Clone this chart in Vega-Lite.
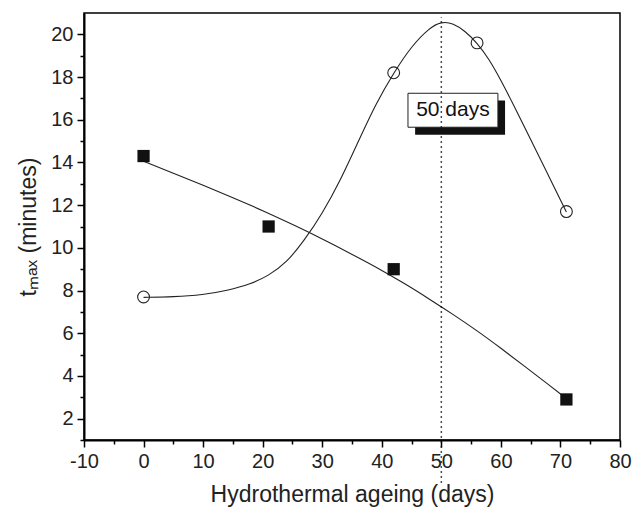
{
  "$schema": "https://vega.github.io/schema/vega-lite/v6.json",
  "width": 536,
  "height": 427,
  "autosize": {"type": "none"},
  "padding": {"left": 84, "top": 13, "right": 13, "bottom": 71},
  "background": "white",
  "config": {
    "view": {"stroke": "black", "strokeWidth": 1.5},
    "font": "Liberation Sans",
    "axis": {
      "grid": false,
      "domainColor": "black",
      "domainWidth": 2,
      "tickColor": "black",
      "tickWidth": 1.5,
      "labelColor": "#222",
      "titleColor": "#222",
      "labelFont": "Liberation Sans",
      "titleFont": "Liberation Sans",
      "labelFontSize": 20,
      "titleFontSize": 23,
      "titleFontWeight": "normal"
    }
  },
  "datasets": {
    "points": [
      {"series": "squares", "day": 0, "value": 14.3},
      {"series": "squares", "day": 21, "value": 11.0},
      {"series": "squares", "day": 42, "value": 9.0},
      {"series": "squares", "day": 71, "value": 2.9},
      {"series": "circles", "day": 0, "value": 7.7},
      {"series": "circles", "day": 42, "value": 18.2},
      {"series": "circles", "day": 56, "value": 19.6},
      {"series": "circles", "day": 71, "value": 11.7}
    ],
    "fit": [
      {"series": "squares", "day": 0, "value": 14.06},
      {"series": "squares", "day": 5, "value": 13.5},
      {"series": "squares", "day": 10, "value": 12.93},
      {"series": "squares", "day": 15, "value": 12.35},
      {"series": "squares", "day": 20, "value": 11.75},
      {"series": "squares", "day": 25, "value": 11.1},
      {"series": "squares", "day": 28, "value": 10.7},
      {"series": "squares", "day": 32, "value": 10.13},
      {"series": "squares", "day": 36, "value": 9.55},
      {"series": "squares", "day": 40, "value": 8.95},
      {"series": "squares", "day": 44, "value": 8.3},
      {"series": "squares", "day": 48, "value": 7.6},
      {"series": "squares", "day": 52, "value": 6.88},
      {"series": "squares", "day": 56, "value": 6.12},
      {"series": "squares", "day": 60, "value": 5.3},
      {"series": "squares", "day": 64, "value": 4.45},
      {"series": "squares", "day": 68, "value": 3.6},
      {"series": "squares", "day": 71, "value": 2.94},
      {"series": "circles", "day": 0, "value": 7.68},
      {"series": "circles", "day": 5, "value": 7.7},
      {"series": "circles", "day": 10, "value": 7.8},
      {"series": "circles", "day": 14, "value": 8.0},
      {"series": "circles", "day": 18, "value": 8.3},
      {"series": "circles", "day": 21, "value": 8.7},
      {"series": "circles", "day": 24, "value": 9.3},
      {"series": "circles", "day": 27, "value": 10.35},
      {"series": "circles", "day": 30, "value": 11.6},
      {"series": "circles", "day": 33, "value": 13.13},
      {"series": "circles", "day": 36, "value": 14.95},
      {"series": "circles", "day": 39, "value": 16.75},
      {"series": "circles", "day": 42, "value": 18.2},
      {"series": "circles", "day": 45, "value": 19.45},
      {"series": "circles", "day": 48, "value": 20.3},
      {"series": "circles", "day": 50, "value": 20.6},
      {"series": "circles", "day": 52, "value": 20.52},
      {"series": "circles", "day": 54, "value": 20.15},
      {"series": "circles", "day": 56, "value": 19.6},
      {"series": "circles", "day": 58, "value": 18.85},
      {"series": "circles", "day": 60, "value": 17.85},
      {"series": "circles", "day": 62, "value": 16.77},
      {"series": "circles", "day": 65, "value": 15.08},
      {"series": "circles", "day": 68, "value": 13.38},
      {"series": "circles", "day": 71, "value": 11.68}
    ],
    "marker": [{"day": 50, "y1": -1, "y2": 20.8}],
    "box": [{"x1": 44.4, "x2": 59.5, "y1": 17.24, "y2": 15.65, "sx1": 45.6, "sx2": 60.7, "sy1": 16.9, "sy2": 15.3, "tx": 51.95, "ty": 16.45, "label": "50 days"}]
  },
  "encoding": {
    "x": {
      "field": "day", "type": "quantitative",
      "scale": {"domain": [-10, 80], "nice": false, "zero": false},
      "axis": {
        "title": "Hydrothermal ageing (days)",
        "values": [-10, -5, 0, 5, 10, 15, 20, 25, 30, 35, 40, 45, 50, 55, 60, 65, 70, 75, 80],
        "labelExpr": "datum.value % 10 === 0 ? '' + datum.value : ''",
        "tickSize": {"condition": {"test": "datum.value % 10 === 0", "value": 7}, "value": 4},
        "labelPadding": 4,
        "titlePadding": 12,
        "labelFlush": false
      }
    },
    "y": {
      "field": "value", "type": "quantitative",
      "scale": {"domain": [1, 21], "nice": false, "zero": false},
      "axis": {
        "title": "tₘₐₓ (minutes)",
        "values": [1, 2, 3, 4, 5, 6, 7, 8, 9, 10, 11, 12, 13, 14, 15, 16, 17, 18, 19, 20],
        "labelExpr": "datum.value % 2 === 0 ? datum.label : ''",
        "tickSize": {"condition": {"test": "datum.value % 2 === 0", "value": 7}, "value": 4},
        "labelPadding": 4,
        "titlePadding": 10,
        "labelFlush": false
      }
    }
  },
  "layer": [
    {
      "data": {"name": "fit"},
      "transform": [{"filter": "datum.series === 'squares'"}],
      "mark": {"type": "line", "interpolate": "basis", "color": "#222", "strokeWidth": 1.1}
    },
    {
      "data": {"name": "fit"},
      "transform": [{"filter": "datum.series === 'circles'"}],
      "mark": {"type": "line", "interpolate": "basis", "color": "#222", "strokeWidth": 1.1}
    },
    {
      "data": {"name": "points"},
      "transform": [{"filter": "datum.series === 'squares'"}],
      "mark": {"type": "point", "shape": "square", "filled": true, "color": "#111", "size": 150, "opacity": 1}
    },
    {
      "data": {"name": "points"},
      "transform": [{"filter": "datum.series === 'circles'"}],
      "mark": {"type": "point", "shape": "circle", "filled": false, "color": "#222", "size": 140, "strokeWidth": 1.1, "opacity": 1}
    },
    {
      "data": {"name": "box"},
      "mark": {"type": "rect", "color": "#111"},
      "encoding": {
        "x": {"field": "sx1", "type": "quantitative"},
        "x2": {"field": "sx2"},
        "y": {"field": "sy1", "type": "quantitative"},
        "y2": {"field": "sy2"}
      }
    },
    {
      "data": {"name": "box"},
      "mark": {"type": "rect", "fill": "white", "stroke": "#222", "strokeWidth": 1},
      "encoding": {
        "x": {"field": "x1", "type": "quantitative"},
        "x2": {"field": "x2"},
        "y": {"field": "y1", "type": "quantitative"},
        "y2": {"field": "y2"}
      }
    },
    {
      "data": {"name": "box"},
      "mark": {"type": "text", "fontSize": 21, "font": "Liberation Sans", "color": "#111", "align": "center", "baseline": "middle"},
      "encoding": {
        "x": {"field": "tx", "type": "quantitative"},
        "y": {"field": "ty", "type": "quantitative"},
        "text": {"field": "label"}
      }
    },
    {
      "data": {"name": "marker"},
      "mark": {"type": "rule", "clip": false, "color": "#111", "strokeWidth": 1.5, "strokeDash": [1.5, 3.5]},
      "encoding": {
        "x": {"field": "day", "type": "quantitative"},
        "y": {"field": "y1", "type": "quantitative"},
        "y2": {"field": "y2"}
      }
    }
  ]
}
